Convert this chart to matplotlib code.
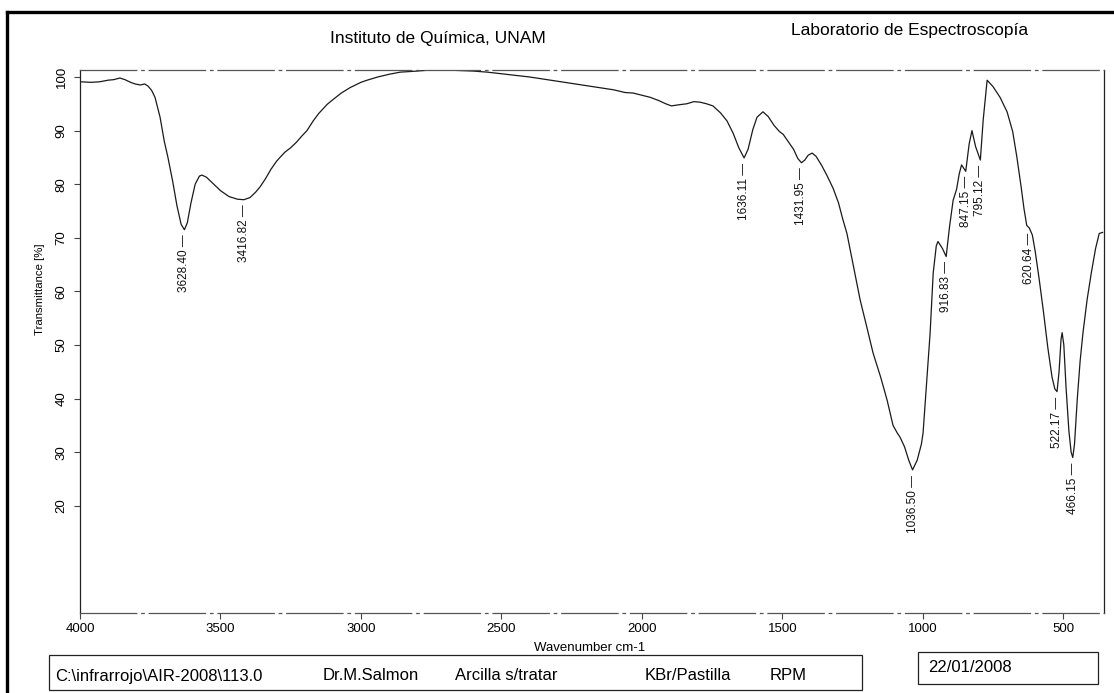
import matplotlib.pyplot as plt
import numpy as np
from matplotlib.lines import Line2D
from matplotlib.patches import Rectangle

plt.rcParams['font.family'] = ['Liberation Sans', 'DejaVu Sans']

# IR spectrum, KBr pellet (wavenumber in cm-1, transmittance in %)
wavenumber = [
    4000, 3960, 3930, 3900, 3880, 3858, 3840, 3820, 3804, 3785, 3770, 3758,
    3745, 3733, 3715, 3700, 3687, 3670, 3655, 3640, 3628.40, 3618, 3605, 3590,
    3575, 3566, 3550, 3530, 3500, 3470, 3440, 3416.82, 3395, 3375, 3359, 3340,
    3320, 3300, 3288, 3270, 3250, 3230, 3210, 3192, 3170, 3150, 3120, 3099,
    3070, 3039, 3000, 2978, 2940, 2900, 2860, 2800, 2750, 2700, 2650, 2600,
    2550, 2500, 2450, 2400, 2350, 2300, 2250, 2200, 2150, 2100, 2060, 2031,
    2000, 1970, 1940, 1915, 1895, 1870, 1840, 1815, 1793, 1770, 1747, 1720,
    1697, 1675, 1655, 1636.11, 1622, 1605, 1590, 1569, 1550, 1530, 1510, 1497,
    1480, 1460, 1445, 1431.95, 1420, 1408, 1394, 1380, 1360, 1340, 1319, 1300,
    1285, 1270, 1250, 1223, 1200, 1177, 1150, 1127, 1106, 1090, 1081, 1065,
    1050, 1036.50, 1020, 1005, 999, 985, 974, 963, 952, 946, 930, 916.83,
    905, 892, 880, 870, 862, 847.15, 835, 825, 812, 795.12, 785, 771,
    750, 725, 700, 680, 665, 650, 640, 630, 620.64, 610, 600, 585,
    570, 555, 540, 530, 522.17, 515, 508, 504, 498, 490, 480, 472,
    466.15, 460, 450, 440, 430, 415, 400, 385, 372, 360,
]
transmittance = [
    99.1, 99.0, 99.1, 99.4, 99.5, 99.8, 99.5, 99.0, 98.7, 98.5, 98.7, 98.3,
    97.5, 96.2, 92.5, 88.0, 85.0, 80.5, 76.0, 72.5, 71.5, 72.8, 76.5, 80.0,
    81.5, 81.7, 81.3, 80.3, 78.8, 77.7, 77.2, 77.1, 77.5, 78.5, 79.5, 81.0,
    82.8, 84.3, 85.0, 86.0, 86.8, 87.8, 89.0, 90.0, 91.8, 93.2, 94.9, 95.8,
    97.0, 98.0, 99.0, 99.4, 100.0, 100.5, 100.9, 101.1, 101.3, 101.3, 101.2, 101.1,
    100.9, 100.6, 100.3, 100.0, 99.6, 99.2, 98.8, 98.4, 98.0, 97.6, 97.1, 97.0,
    96.6, 96.2, 95.6, 95.0, 94.6, 94.8, 95.0, 95.4, 95.3, 95.0, 94.6, 93.3,
    91.8, 89.5, 86.8, 84.9, 86.5, 90.2, 92.5, 93.5, 92.6, 91.0, 89.8, 89.3,
    88.0, 86.5, 84.8, 84.0, 84.5, 85.4, 85.8, 85.2, 83.5, 81.5, 79.2, 76.5,
    73.5, 70.8, 65.5, 58.4, 53.5, 48.5, 44.0, 39.7, 35.0, 33.5, 32.8, 31.0,
    28.5, 26.7, 28.5, 31.5, 33.6, 44.0, 52.2, 63.4, 68.5, 69.3, 68.0, 66.5,
    72.0, 77.0, 79.0, 82.0, 83.6, 82.4, 87.5, 90.0, 87.0, 84.5, 92.0, 99.4,
    98.2, 96.2, 93.5, 89.8, 85.0, 79.5, 75.5, 72.3, 71.8, 70.5, 67.5, 62.0,
    56.0, 49.5, 44.0, 41.8, 41.3, 45.0, 51.0, 52.3, 50.0, 42.0, 34.0, 30.0,
    29.0, 31.5, 40.0, 47.0, 52.2, 58.5, 63.5, 68.0, 70.8, 71.0,
]
peak_positions = [3628.40, 3416.82, 1636.11, 1431.95, 1036.50, 916.83,
                  847.15, 795.12, 620.64, 522.17, 466.15]

x_ticks = [4000, 3500, 3000, 2500, 2000, 1500, 1000, 500]
y_ticks = [20, 30, 40, 50, 60, 70, 80, 90, 100]

footer_items = [
    ("C:\\infrarrojo\\AIR-2008\\113.0", 55),
    ("Dr.M.Salmon", 323),
    ("Arcilla s/tratar", 455),
    ("KBr/Pastilla", 645),
    ("RPM", 770),
]
sample_date = "22/01/2008"

W, H = 1114, 693


def fx(x):
    return x / W


def fy(y):
    return 1 - y / H


fig = plt.figure(figsize=(W / 100, H / 100), dpi=100)
ax = fig.add_axes([fx(80), fy(613), (1104 - 80) / W, (613 - 70) / H])

ax.plot(wavenumber, transmittance, color='#1a1a1a', lw=0.9)
ax.set_xlim(4000, 355)
ax.set_ylim(0, 101.3)

ax.set_xticks(x_ticks)
ax.set_xticklabels([str(t) for t in x_ticks], fontsize=9.5)
ax.set_yticks(y_ticks)
ax.set_yticklabels([str(t) for t in y_ticks], fontsize=9.5, rotation=90, va='center')
ax.tick_params(direction='out', length=4, width=0.8, color='#444444')
ax.tick_params(axis='x', pad=3)
ax.tick_params(axis='y', pad=5)

for side in ['left', 'right']:
    ax.spines[side].set_color('#222222')
    ax.spines[side].set_linewidth(0.9)
for side in ['top', 'bottom']:
    ax.spines[side].set_color('#555555')
    ax.spines[side].set_linewidth(0.9)
    ax.spines[side].set_linestyle((0, (45, 4, 2, 4)))

# peak markers: value plus a short dash just below each band
for wn in peak_positions:
    t = np.interp(wn, wavenumber[::-1], transmittance[::-1])
    ax.text(wn, t - 0.9, f"{wn:.2f} \u2014", rotation=90, ha='center', va='top',
            fontsize=8.5, color='#111111')

fig.text(fx(40), fy(289), "Transmittance [%]", rotation=90, ha='center', va='center',
         fontsize=8.2)
fig.text(fx(590), fy(648), "Wavenumber cm-1", ha='center', va='center', fontsize=9.5)

fig.text(fx(438), fy(38), "Instituto de Química, UNAM", ha='center', va='center',
         fontsize=12.5)
fig.text(fx(910), fy(30), "Laboratorio de Espectroscopía", ha='center', va='center',
         fontsize=12.5)

# page frame
fig.add_artist(Line2D([fx(7), 1.0], [fy(12), fy(12)], transform=fig.transFigure,
                      color='black', lw=2.4))
fig.add_artist(Line2D([fx(7), fx(7)], [fy(12), 0.0], transform=fig.transFigure,
                      color='black', lw=2.4))

# footer boxes
fig.add_artist(Rectangle((fx(49), fy(690)), (862 - 49) / W, (690 - 655) / H,
                         transform=fig.transFigure, fill=False, ec='#222222', lw=0.9))
for label, xpos in footer_items:
    fig.text(fx(xpos), fy(676), label, ha='left', va='center', fontsize=12)

fig.add_artist(Rectangle((fx(918), fy(684)), (1098 - 918) / W, (684 - 652) / H,
                         transform=fig.transFigure, fill=False, ec='#222222', lw=0.9))
fig.text(fx(928), fy(668), sample_date, ha='left', va='center', fontsize=12)

fig.savefig("out.png", dpi=100)
